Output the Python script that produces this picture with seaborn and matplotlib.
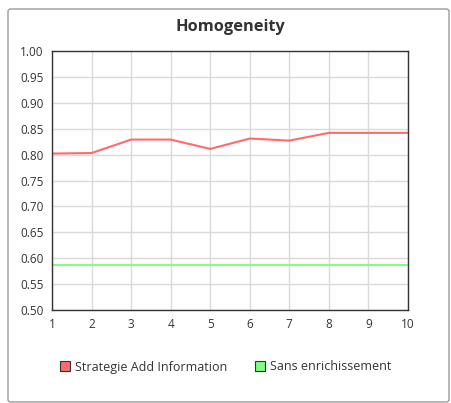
import matplotlib
matplotlib.use("Agg")
import matplotlib.pyplot as plt
from matplotlib.patches import FancyBboxPatch, Patch
import seaborn as sns
import pandas as pd

iterations = [1, 2, 3, 4, 5, 6, 7, 8, 9, 10]
strategie_add = [0.802, 0.803, 0.829, 0.829, 0.811, 0.831, 0.827, 0.842, 0.842, 0.842]
sans_enrich = [0.587] * 10
series_names = ["Strategie Add Information", "Sans enrichissement"]
colors = ["#ff6b6b", "#80ff80"]
y_ticks = [0.50, 0.55, 0.60, 0.65, 0.70, 0.75, 0.80, 0.85, 0.90, 0.95, 1.00]

df = pd.DataFrame({
    "x": iterations * 2,
    "y": strategie_add + sans_enrich,
    "serie": [series_names[0]] * 10 + [series_names[1]] * 10,
})

sns.set_style("white")
plt.rcParams["font.family"] = ["Open Sans", "DejaVu Sans"]

fig = plt.figure(figsize=(4.51, 4.03), dpi=100)
# outer frame
frame = FancyBboxPatch((8 / 451, 1 - 402 / 403), 441 / 451, 393 / 403,
                       boxstyle="round,pad=0,rounding_size=0.006",
                       transform=fig.transFigure, facecolor="none",
                       edgecolor="#9a9a9a", linewidth=1.0, zorder=-1)
fig.patches.append(frame)

ax = fig.add_axes([52 / 451, 1 - 310 / 403, 356 / 451, 259 / 403])
sns.lineplot(data=df, x="x", y="y", hue="serie", palette=colors,
             linewidth=1.5, ax=ax, legend=False)

ax.set_xlim(1, 10)
ax.set_ylim(0.5, 1.0)
ax.set_xticks(iterations)
ax.set_yticks(y_ticks)
ax.set_yticklabels([f"{v:.2f}" for v in y_ticks])
ax.grid(True, color="#d9d9d9", linewidth=1.0)
ax.set_axisbelow(True)
for s in ax.spines.values():
    s.set_color("#333333")
    s.set_linewidth(1.0)
ax.tick_params(axis="both", labelsize=8.5, colors="#333333", length=3, width=0.8)
ax.tick_params(axis="y", length=0, pad=6)
ax.tick_params(axis="x", pad=3)
ax.set_xlabel("")
ax.set_ylabel("")

fig.text(230 / 451, 1 - 27 / 403, "Homogeneity", ha="center", va="center",
         fontsize=11.8, fontweight="bold", color="#333333")

handles = [Patch(facecolor=c, edgecolor="#333333", linewidth=0.8) for c in colors]
fig.legend(handles, series_names, loc="center", bbox_to_anchor=(226 / 451, 1 - 367 / 403),
           ncol=2, frameon=False, fontsize=9, handlelength=0.8, handleheight=0.8,
           handletextpad=0.4, columnspacing=2.2, labelcolor="#333333")

fig.savefig("out.png", dpi=100)
